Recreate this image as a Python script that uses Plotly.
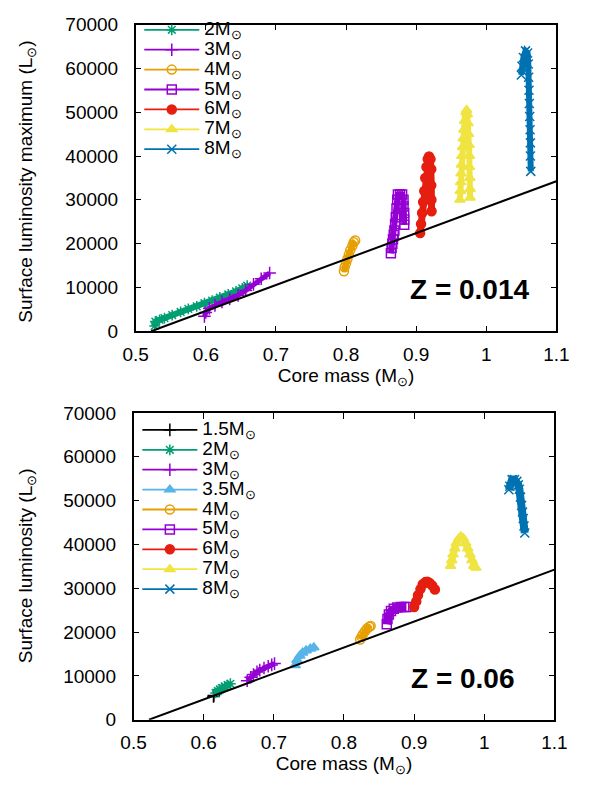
import plotly.graph_objects as go

# ---------------- data: Z = 0.014 (top panel) ----------------
top_2_m = [0.527, 0.528, 0.534, 0.541, 0.552, 0.564, 0.575, 0.587, 0.598, 0.609, 0.620, 0.632, 0.643, 0.652, 0.659]
top_2_l = [1200, 2200, 2600, 3000, 3700, 4400, 5100, 5700, 6400, 7000, 7700, 8400, 9100, 9800, 10400]

top_3_m = [0.598, 0.600, 0.605, 0.613, 0.623, 0.634, 0.646, 0.657, 0.668, 0.679, 0.691]
top_3_l = [3400, 4300, 5200, 5900, 6700, 7400, 8200, 9300, 10700, 12000, 13300]

top_4_m = [0.797, 0.798, 0.800, 0.802, 0.804, 0.806, 0.809, 0.811, 0.813]
top_4_l = [13700, 14600, 15500, 16500, 17500, 18500, 19500, 20300, 20700]

top_5_m = [0.864, 0.865, 0.866, 0.867, 0.868, 0.869, 0.870, 0.871, 0.872, 0.873, 0.874, 0.877, 0.880, 0.882, 0.882, 0.883, 0.883, 0.883]
top_5_l = [17800, 19000, 20000, 21000, 22000, 23000, 24500, 26000, 28000, 30000, 31200, 31300, 31200, 30000, 28500, 27000, 25500, 24300]

top_6_m = [0.9057, 0.907, 0.9085, 0.910, 0.9116, 0.913, 0.9147, 0.9165, 0.9184, 0.9205, 0.9216, 0.9216, 0.9218, 0.922]
top_6_l = [22400, 24500, 27000, 29500, 32000, 35000, 37500, 39300, 39900, 39300, 37000, 33300, 30000, 27400]

top_7_m = [0.9625, 0.963, 0.9635, 0.964, 0.9645, 0.965, 0.966, 0.967, 0.968, 0.969, 0.971, 0.972, 0.973, 0.974, 0.975, 0.9755, 0.976, 0.976, 0.9765, 0.977, 0.977]
top_7_l = [30000, 32000, 34000, 36000, 38000, 40000, 42000, 44000, 46000, 48000, 50000, 50500, 49500, 47500, 45000, 42500, 40000, 37500, 35000, 32500, 30500]

top_8_m = [1.050, 1.051, 1.053, 1.056, 1.059, 1.060, 1.0605, 1.061, 1.0615, 1.062, 1.0625, 1.063, 1.063, 1.0635]
top_8_l = [58500, 60500, 62500, 64000, 63500, 61000, 58000, 55000, 52000, 49000, 46000, 43000, 40000, 36500]

# ---------------- data: Z = 0.06 (bottom panel) ----------------
bot_15_m = [0.614, 0.6145]
bot_15_l = [5300, 5500]

bot_2_m = [0.617, 0.620, 0.623, 0.626, 0.630, 0.634, 0.638]
bot_2_l = [6100, 6500, 6900, 7200, 7600, 7900, 8200]

bot_3_m = [0.662, 0.667, 0.671, 0.676, 0.680, 0.686, 0.692, 0.697, 0.701]
bot_3_l = [8900, 9700, 10300, 10900, 11300, 11800, 12200, 12500, 12800]

bot_35_m = [0.7305, 0.733, 0.737, 0.741, 0.746, 0.752, 0.757]
bot_35_l = [12400, 13600, 14600, 15300, 15800, 16200, 16500]

bot_4_m = [0.823, 0.825, 0.827, 0.830, 0.833, 0.836, 0.838]
bot_4_l = [18300, 18900, 19500, 20200, 20800, 21200, 21400]

bot_5_m = [0.861, 0.862, 0.864, 0.867, 0.871, 0.876, 0.881, 0.886, 0.889]
bot_5_l = [21800, 23000, 24000, 24800, 25300, 25600, 25700, 25700, 25700]

bot_6_m = [0.900, 0.903, 0.9055, 0.909, 0.9123, 0.916, 0.919, 0.922, 0.9259, 0.9296]
bot_6_l = [25700, 27000, 28400, 29800, 30900, 31400, 31500, 31200, 30600, 29700]

bot_7_m = [0.9518, 0.9535, 0.9555, 0.958, 0.960, 0.9635, 0.9668, 0.970, 0.9736, 0.9765, 0.9796, 0.9825, 0.985, 0.988]
bot_7_l = [35100, 36400, 37700, 39100, 40300, 41300, 41800, 41400, 40300, 39100, 37700, 36400, 35100, 34700]

bot_8_m = [1.0350, 1.0364, 1.0396, 1.0430, 1.0464, 1.0485, 1.0500, 1.0516, 1.0532, 1.0545, 1.0555, 1.0566, 1.0577]
bot_8_l = [52500, 53300, 54800, 54800, 54400, 53600, 52600, 50800, 48900, 47400, 45900, 44200, 42600]

# Paczynski core-mass / luminosity relation endpoints
rel_m = [0.522, 1.1]
rel_l = [0, 34247]

labels_top = ["2M", "3M", "4M", "5M", "6M", "7M", "8M"]
labels_bot = ["1.5M", "2M", "3M", "3.5M", "4M", "5M", "6M", "7M", "8M"]

# ---------------- styles ----------------
C_GREEN, C_PURPLE, C_ORANGE = "#009e73", "#9400d3", "#e69f00"
C_RED, C_YELLOW, C_BLUE = "#e51e10", "#f0e442", "#0072b2"
C_LBLUE, C_BLACK = "#56b4e9", "#000000"

# colour, symbol, band width of the dense point track
style = {
    "2": (C_GREEN, "asterisk-open", 6),
    "3": (C_PURPLE, "cross-thin-open", 5),
    "4": (C_ORANGE, "circle-open", 6),
    "5": (C_PURPLE, "square-open", 6),
    "6": (C_RED, "circle", 7),
    "7": (C_YELLOW, "triangle-up", 6),
    "8": (C_BLUE, "x-thin-open", 6),
    "1.5": (C_BLACK, "cross-thin-open", 2),
    "3.5": (C_LBLUE, "triangle-up", 6),
}
bot_band = {"5": 8, "8": 8, "6": 7, "7": 7, "2": 7}

FONT = "Liberation Sans, Arial, Helvetica, sans-serif"

fig = go.Figure()


def add_series(m, l, key, label, xa, ya, legend, band=None):
    color, sym, bw = style[key]
    if band is not None:
        bw = band
    fig.add_trace(go.Scatter(
        x=m, y=l, mode="lines+markers", xaxis=xa, yaxis=ya, showlegend=False,
        line=dict(color=color, width=bw),
        marker=dict(symbol=sym, size=9, color=color, line=dict(color=color, width=1.5)),
        hoverinfo="skip"))
    fig.add_trace(go.Scatter(
        x=[None], y=[None], mode="lines+markers", xaxis=xa, yaxis=ya,
        name="<span style='font-size:19px'>" + label + "<sub>⊙</sub></span>",
        legend=legend,
        line=dict(color=color, width=1.8),
        marker=dict(symbol=sym, size=9, color=color, line=dict(color=color, width=1.5))))


# top panel
top_sets = [(top_2_m, top_2_l, "2"), (top_3_m, top_3_l, "3"), (top_4_m, top_4_l, "4"),
            (top_5_m, top_5_l, "5"), (top_6_m, top_6_l, "6"), (top_7_m, top_7_l, "7"),
            (top_8_m, top_8_l, "8")]
for (m, l, k), lab in zip(top_sets, labels_top):
    add_series(m, l, k, lab, "x", "y", "legend")
fig.add_trace(go.Scatter(x=rel_m, y=rel_l, mode="lines", xaxis="x", yaxis="y",
                         line=dict(color="black", width=2), showlegend=False, hoverinfo="skip"))

# bottom panel
bot_sets = [(bot_15_m, bot_15_l, "1.5"), (bot_2_m, bot_2_l, "2"), (bot_3_m, bot_3_l, "3"),
            (bot_35_m, bot_35_l, "3.5"), (bot_4_m, bot_4_l, "4"), (bot_5_m, bot_5_l, "5"),
            (bot_6_m, bot_6_l, "6"), (bot_7_m, bot_7_l, "7"), (bot_8_m, bot_8_l, "8")]
for (m, l, k), lab in zip(bot_sets, labels_bot):
    add_series(m, l, k, lab, "x2", "y2", "legend2", band=bot_band.get(k))
fig.add_trace(go.Scatter(x=rel_m, y=rel_l, mode="lines", xaxis="x2", yaxis="y2",
                         line=dict(color="black", width=2), showlegend=False, hoverinfo="skip"))

W, H = 599, 792
axis_common = dict(
    showline=True, linecolor="black", linewidth=1.5, mirror="allticks",
    ticks="inside", ticklen=6, tickwidth=1, tickcolor="black",
    showgrid=False, zeroline=False,
    tickfont=dict(family=FONT, size=19, color="black"),
)

fig.update_layout(
    width=W, height=H, margin=dict(l=0, r=0, t=0, b=0),
    plot_bgcolor="white", paper_bgcolor="white",
    font=dict(family=FONT, color="black"),
    xaxis=dict(axis_common, domain=[128.3 / W, 568 / W], range=[0.5, 1.1], dtick=0.1, anchor="y",
               title=dict(text="Core mass (M<sub>⊙</sub>)", font=dict(size=19), standoff=4),
               ticklabelstandoff=5),
    yaxis=dict(axis_common, domain=[1 - 330 / H, 1 - 15 / H], range=[0, 70000], dtick=10000,
               tickformat="d", anchor="x", ticklabelstandoff=12),
    xaxis2=dict(axis_common, domain=[126 / W, 566 / W], range=[0.5, 1.1], dtick=0.1, anchor="y2",
                title=dict(text="Core mass (M<sub>⊙</sub>)", font=dict(size=19), standoff=4),
                ticklabelstandoff=5),
    yaxis2=dict(axis_common, domain=[1 - 729 / H, 1 - 414 / H], range=[0, 70000], dtick=10000,
                tickformat="d", anchor="x2", ticklabelstandoff=12),
    legend=dict(x=132 / W, y=1 - 5 / H, xanchor="left", yanchor="top",
                bgcolor="rgba(0,0,0,0)", font=dict(family=FONT, size=13),
                tracegroupgap=0, itemwidth=55),
    legend2=dict(x=130 / W, y=1 - 416 / H, xanchor="left", yanchor="top",
                 bgcolor="rgba(0,0,0,0)", font=dict(family=FONT, size=13),
                 tracegroupgap=0, itemwidth=55),
    annotations=[
        dict(text="Surface luminosity maximum (L<sub>⊙</sub>)", textangle=-90,
             x=15 / W, y=1 - 176 / H, xref="paper", yref="paper", showarrow=False,
             xanchor="center", yanchor="middle",
             font=dict(family=FONT, size=19, color="black")),
        dict(text="Surface luminosity (L<sub>⊙</sub>)", textangle=-90,
             x=15 / W, y=1 - 571 / H, xref="paper", yref="paper", showarrow=False,
             xanchor="center", yanchor="middle",
             font=dict(family=FONT, size=19, color="black")),
        dict(text="<b>Z = 0.014</b>", x=0.977, y=9500, xref="x", yref="y", showarrow=False,
             font=dict(family=FONT, size=28, color="black")),
        dict(text="<b>Z = 0.06</b>", x=0.969, y=9400, xref="x2", yref="y2", showarrow=False,
             font=dict(family=FONT, size=28, color="black")),
    ],
)

fig.write_html("out.html")
